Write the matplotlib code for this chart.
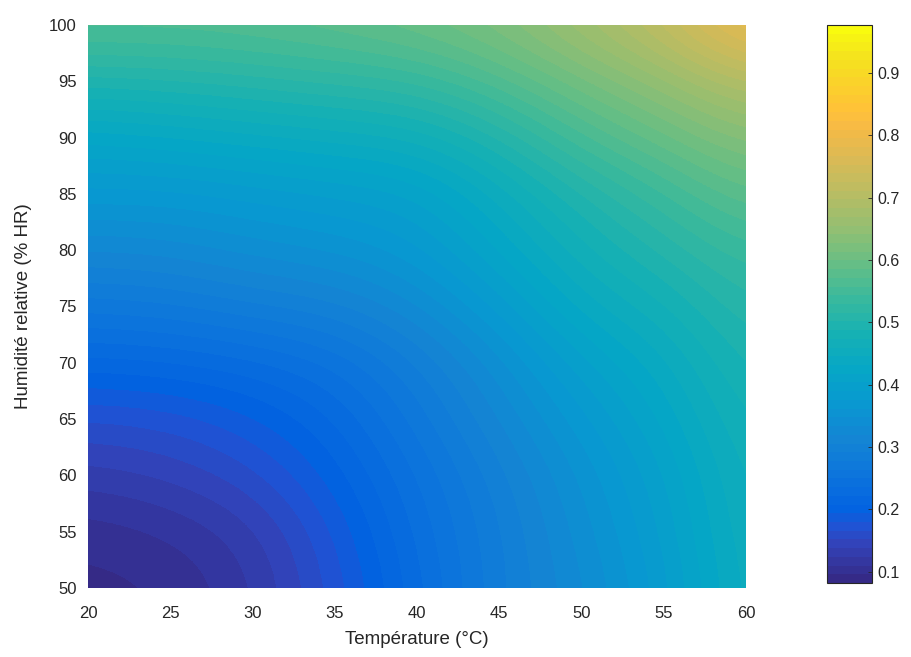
import matplotlib
matplotlib.use("Agg")
import matplotlib.pyplot as plt
import numpy as np
from matplotlib.colors import LinearSegmentedColormap

# axes of the grid
temperature = [20, 25, 30, 35, 40, 45, 50, 55, 60]           # °C
humidity = [50, 55, 60, 65, 70, 75, 80, 85, 90, 95, 100]      # % HR

# values, one row per humidity (50 -> 100)
z_hr50 = [0.090, 0.095, 0.120, 0.170, 0.230, 0.290, 0.330, 0.380, 0.460]
z_hr55 = [0.100, 0.110, 0.130, 0.180, 0.240, 0.290, 0.340, 0.390, 0.465]
z_hr60 = [0.130, 0.140, 0.160, 0.200, 0.250, 0.300, 0.350, 0.400, 0.470]
z_hr65 = [0.165, 0.170, 0.190, 0.220, 0.270, 0.320, 0.370, 0.420, 0.480]
z_hr70 = [0.215, 0.220, 0.230, 0.250, 0.290, 0.340, 0.400, 0.440, 0.495]
z_hr75 = [0.270, 0.275, 0.290, 0.300, 0.330, 0.380, 0.440, 0.470, 0.515]
z_hr80 = [0.320, 0.325, 0.340, 0.350, 0.370, 0.420, 0.470, 0.505, 0.540]
z_hr85 = [0.370, 0.370, 0.380, 0.390, 0.400, 0.450, 0.500, 0.540, 0.585]
z_hr90 = [0.420, 0.430, 0.440, 0.450, 0.460, 0.500, 0.555, 0.595, 0.635]
z_hr95 = [0.495, 0.500, 0.510, 0.520, 0.530, 0.565, 0.610, 0.650, 0.700]
z_hr100 = [0.570, 0.570, 0.575, 0.585, 0.600, 0.625, 0.670, 0.720, 0.800]

cbar_ticks = [0.1, 0.2, 0.3, 0.4, 0.5, 0.6, 0.7, 0.8, 0.9]
c_min, c_max = 0.082, 0.977

# MATLAB parula (64 colours), a few anchors of the table
_parula_idx = [0, 4, 6, 8, 12, 16, 20, 24, 28, 32, 36, 40, 44, 48, 52, 54, 56, 60, 63]
_parula_rgb = [
    (0.2081, 0.1663, 0.5292), (0.1959, 0.2645, 0.7279), (0.1253, 0.3242, 0.8303),
    (0.0117, 0.3875, 0.8820), (0.0498, 0.4586, 0.8641), (0.0793, 0.5200, 0.8312),
    (0.0343, 0.5966, 0.8199), (0.0228, 0.6535, 0.7768), (0.0843, 0.6928, 0.7062),
    (0.2178, 0.7250, 0.6193), (0.3953, 0.7459, 0.5244), (0.5709, 0.7485, 0.4494),
    (0.7184, 0.7411, 0.3905), (0.8507, 0.7299, 0.3360), (0.9739, 0.7314, 0.2666),
    (0.9990, 0.7653, 0.2164), (0.9880, 0.8066, 0.1794), (0.9589, 0.8949, 0.1132),
    (0.9763, 0.9831, 0.0538),
]
parula = LinearSegmentedColormap.from_list(
    "parula", list(zip([i / 63 for i in _parula_idx], _parula_rgb)), N=64)

TXT = "#262626"
plt.rcParams["font.family"] = ["Liberation Sans", "DejaVu Sans"]

z = np.array([z_hr50, z_hr55, z_hr60, z_hr65, z_hr70, z_hr75,
              z_hr80, z_hr85, z_hr90, z_hr95, z_hr100])
dt = (temperature[1] - temperature[0]) / 2
dh = (humidity[1] - humidity[0]) / 2

fig = plt.figure(figsize=(9.12, 6.57), dpi=100)
ax = fig.add_axes([88 / 912, 1 - 588 / 657, (746 - 88) / 912, (588 - 25) / 657])
im = ax.imshow(z, origin="lower", aspect="auto", cmap=parula,
               vmin=c_min, vmax=c_max, interpolation="bicubic",
               interpolation_stage="data",
               extent=[temperature[0] - dt, temperature[-1] + dt,
                       humidity[0] - dh, humidity[-1] + dh])
ax.set_xlim(temperature[0], temperature[-1])
ax.set_ylim(humidity[0], humidity[-1])
ax.set_xticks(temperature)
ax.set_yticks(humidity)
for s in ax.spines.values():
    s.set_visible(False)
ax.tick_params(length=0, labelsize=12, colors=TXT)
ax.tick_params(axis="x", pad=13)
ax.tick_params(axis="y", pad=8)
ax.set_xlabel("Température (°C)", fontsize=13.5, color=TXT, labelpad=7)
ax.set_ylabel("Humidité relative (% HR)", fontsize=13.5, color=TXT, labelpad=12)

cax = fig.add_axes([827 / 912, 1 - 583 / 657, (872 - 827) / 912, (583 - 25) / 657])
cb = fig.colorbar(im, cax=cax, ticks=cbar_ticks)
cb.outline.set_edgecolor("#262626")
cb.outline.set_linewidth(0.8)
cax.tick_params(direction="in", length=3, width=0.6, labelsize=11.5, colors=TXT, pad=4)

fig.savefig("out.png", dpi=100, facecolor="white")
